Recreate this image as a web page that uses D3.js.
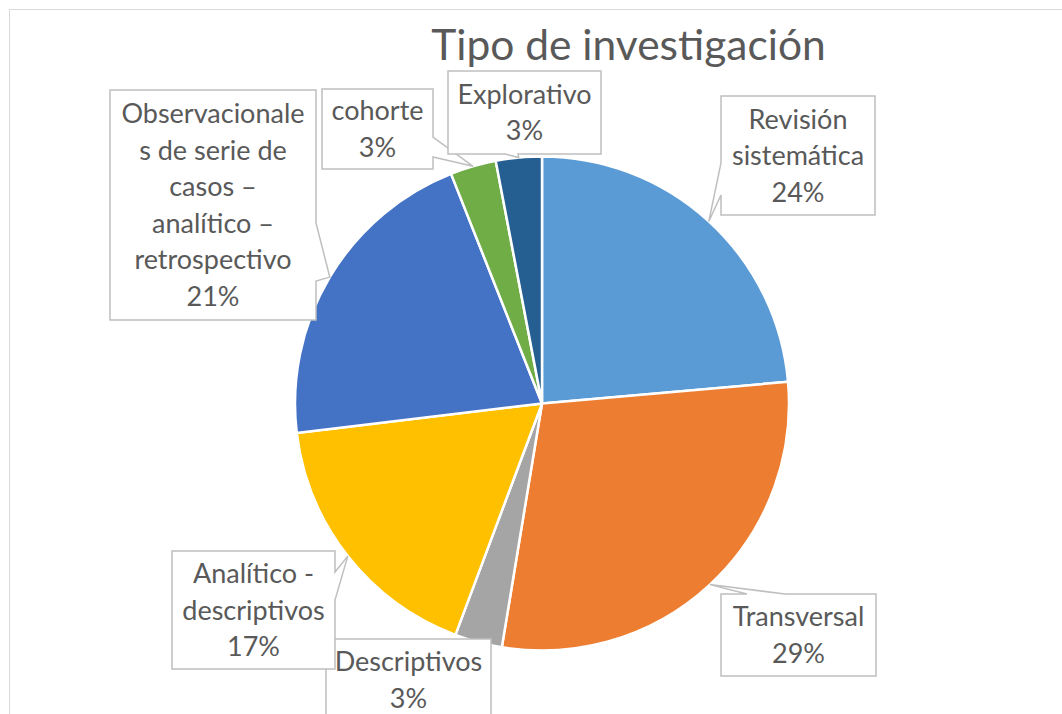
<!DOCTYPE html>
<html>
<head>
<meta charset="utf-8">
<script src="https://cdn.jsdelivr.net/npm/d3@7"></script>
<style>
  html, body { margin: 0; padding: 0; background: #fff; }
  svg { display: block; }
  text { font-family: Lato, "Open Sans", sans-serif; fill: #595959; }
</style>
</head>
<body>
<svg id="viz"></svg>
<script>
// data
const categories = [
  'Revisión sistemática',
  'Transversal',
  'Descriptivos',
  'Analítico - descriptivos',
  'Observacionales de serie de casos – analítico – retrospectivo',
  'cohorte',
  'Explorativo'
];
const values = [23.6, 29.0, 3.1, 17.4, 20.9, 3.0, 3.0];
// label lines as wrapped in the picture
const labelLines = [
  ['Revisión', 'sistemática'],
  ['Transversal'],
  ['Descriptivos'],
  ['Analítico -', 'descriptivos'],
  ['Observacionale', 's de serie de', 'casos –', 'analítico –', 'retrospectivo'],
  ['cohorte'],
  ['Explorativo']
];
const colors = ['#5B9BD5', '#ED7D31', '#A5A5A5', '#FFC000', '#4472C4', '#70AD47', '#255E91'];

const width = 1062;
const height = 714;
const cx = 542;
const cy = 403.5;
const radius = 247;
const lineH = 36.5;

// callout boxes: x, y, w, h, and side of the box where the pointer starts
const boxes = [
  { x: 721, y: 96, w: 154, h: 119, side: 'left', a: 163, b: 195 },
  { x: 721, y: 594, w: 155, h: 82, side: 'top', a: 747, b: 785 },
  { x: 326, y: 639, w: 165, h: 82, side: null },
  { x: 172, y: 551, w: 163, h: 118, side: 'right', a: 572, b: 600 },
  { x: 110, y: 90, w: 206, h: 230, side: 'right', a: 223, b: 281 },
  { x: 322, y: 89, w: 111, h: 80, side: 'right', a: 137, b: 157 },
  { x: 448, y: 71, w: 153, h: 83, side: 'bottom', a: 505, b: 518 }
];

const svg = d3.select('#viz').attr('width', width).attr('height', height);

// chart area frame
svg
  .append('rect')
  .attr('x', 9.5)
  .attr('y', 9.5)
  .attr('width', 1200)
  .attr('height', 900)
  .attr('fill', '#fff')
  .attr('stroke', '#d9d9d9')
  .attr('stroke-width', 1);

// title
svg
  .append('text')
  .attr('x', 628.5)
  .attr('y', 60)
  .attr('text-anchor', 'middle')
  .style('font-size', '42.5px')
  .text('Tipo de investigación');

const pie = d3.pie().sort(null).value((d) => d);
const arcs = pie(values);
const total = d3.sum(values);
const pct = d3.format('.0%');

const arc = d3.arc().innerRadius(0).outerRadius(radius);
const rimArc = d3.arc().innerRadius(radius).outerRadius(radius);

const g = svg.append('g').attr('transform', 'translate(' + cx + ',' + cy + ')');

g.selectAll('path')
  .data(arcs)
  .join('path')
  .attr('d', arc)
  .attr('fill', (d, i) => colors[i])
  .attr('stroke', '#fff')
  .attr('stroke-width', 2.5)
  .attr('stroke-linejoin', 'round');

// callout outline with pointer wedge
function calloutPath(b, tip) {
  const x0 = b.x, y0 = b.y, x1 = b.x + b.w, y1 = b.y + b.h;
  const p = [[x0, y0]];
  if (b.side === 'top') p.push([b.a, y0], tip, [b.b, y0]);
  p.push([x1, y0]);
  if (b.side === 'right') p.push([x1, b.a], tip, [x1, b.b]);
  p.push([x1, y1]);
  if (b.side === 'bottom') p.push([b.b, y1], tip, [b.a, y1]);
  p.push([x0, y1]);
  if (b.side === 'left') p.push([x0, b.b], tip, [x0, b.a]);
  return 'M' + p.map((q) => q[0] + ',' + q[1]).join('L') + 'Z';
}

const labels = svg.append('g');

arcs.forEach((d, i) => {
  const b = boxes[i];
  const c = rimArc.centroid(d);
  const tip = [cx + c[0], cy + c[1]];

  labels
    .append('path')
    .attr('d', calloutPath(b, tip))
    .attr('fill', '#fff')
    .attr('stroke', '#bfbfbf')
    .attr('stroke-width', 1.5)
    .attr('stroke-linejoin', 'miter');

  const lines = labelLines[i].concat([pct(values[i] / total)]);
  const mid = b.y + b.h / 2;
  const n = lines.length;
  labels
    .append('text')
    .attr('text-anchor', 'middle')
    .style('font-size', '27px')
    .selectAll('tspan')
    .data(lines)
    .join('tspan')
    .attr('x', b.x + b.w / 2)
    .attr('y', (t, k) => mid + (k - (n - 1) / 2) * lineH + 9.5)
    .text((t) => t);
});
</script>
</body>
</html>
